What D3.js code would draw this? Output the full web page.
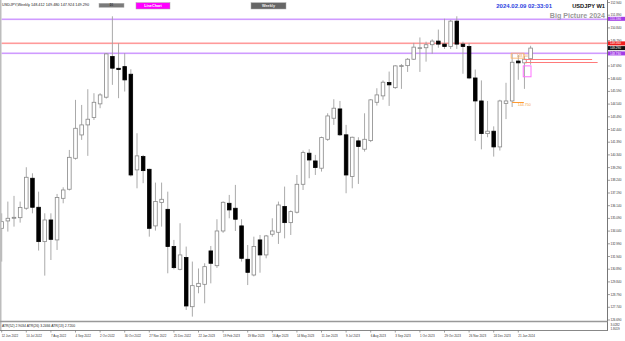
<!DOCTYPE html>
<html>
<head>
<meta charset="utf-8">
<script src="https://cdn.jsdelivr.net/npm/d3@7"></script>
<style>
  body { margin: 0; background: #fff; }
  svg { display: block; font-family: "Liberation Sans", Arial, sans-serif; }
</style>
</head>
<body>
<svg id="chart" width="625" height="341"></svg>
<script>
// weekly bars, 12 Jun 2022 .. 4 Feb 2024
var open = [134.27, 134.88, 135.10, 135.15, 135.93, 138.41, 136.01, 133.17, 134.96, 133.31,
  136.75, 137.50, 140.06, 141.99, 142.82, 143.43, 144.56, 145.11, 148.47, 147.50,
  147.64, 147.01, 139.10, 140.20, 139.15, 134.47, 136.40, 135.84, 132.76, 130.88,
  131.85, 127.79, 129.45, 129.64, 132.40, 131.18, 134.05, 136.34, 135.93, 134.47,
  131.71, 130.41, 133.31, 132.07, 133.78, 133.94, 136.07, 134.74, 135.60, 137.91,
  140.48, 139.84, 139.24, 141.63, 143.37, 144.14, 142.00, 138.55, 141.50, 140.81,
  141.52, 144.69, 145.22, 146.32, 145.90, 147.68, 147.72, 148.25, 149.15, 149.20,
  149.45, 149.75, 149.50, 149.30, 151.40, 149.50, 149.30, 146.70, 144.80, 142.10,
  142.30, 141.00, 144.60, 144.80, 148.10, 147.95, 148.29];
var high = [135.51, 136.48, 136.95, 136.48, 139.32, 138.82, 137.30, 135.51, 135.51, 137.11,
  137.66, 140.75, 144.89, 144.47, 145.77, 145.44, 145.44, 148.75, 151.80, 149.57,
  148.75, 147.42, 142.13, 140.34, 139.20, 138.05, 138.05, 137.30, 133.31, 134.69,
  132.76, 131.52, 130.95, 131.38, 132.81, 135.02, 136.50, 137.03, 137.86, 135.02,
  132.89, 133.58, 133.72, 133.72, 135.10, 136.48, 137.72, 135.75, 138.68, 140.70,
  140.81, 140.34, 141.85, 143.78, 144.94, 144.80, 142.82, 141.85, 141.80, 143.78,
  144.95, 145.85, 146.50, 147.23, 147.75, 147.85, 148.35, 149.60, 150.05, 149.70,
  149.90, 150.70, 151.60, 151.50, 151.80, 149.70, 149.60, 147.40, 146.50, 144.80,
  142.70, 144.90, 146.30, 148.70, 148.60, 148.50, 149.36];
var low = [131.52, 134.00, 134.41, 134.74, 135.80, 135.51, 132.43, 130.36, 131.65, 132.48,
  136.34, 137.40, 139.95, 141.58, 140.26, 143.23, 144.20, 145.00, 146.13, 145.03,
  145.58, 138.55, 137.58, 138.00, 133.58, 134.08, 134.41, 130.55, 130.88, 130.80,
  127.52, 126.97, 128.90, 128.07, 129.72, 131.00, 133.90, 135.10, 134.05, 131.52,
  129.58, 130.30, 130.60, 131.79, 133.58, 132.98, 133.44, 133.72, 135.50, 137.44,
  138.41, 138.68, 138.96, 141.50, 142.82, 141.90, 137.17, 137.58, 137.94, 140.61,
  141.40, 144.42, 144.90, 144.39, 145.80, 145.80, 147.20, 148.20, 147.20, 148.05,
  148.70, 149.20, 149.10, 149.10, 149.10, 147.05, 146.60, 141.50, 140.80, 141.80,
  140.20, 140.70, 143.30, 144.30, 146.55, 145.80, 147.80];
var close = [134.82, 135.10, 135.18, 136.00, 138.49, 136.01, 133.17, 134.96, 133.36, 136.81,
  137.44, 140.14, 142.54, 142.82, 143.29, 144.69, 145.30, 148.69, 147.51, 147.40,
  146.54, 138.68, 140.26, 139.04, 134.27, 136.48, 136.67, 132.76, 131.02, 132.07,
  127.85, 129.53, 129.72, 131.10, 131.38, 134.05, 136.42, 135.79, 135.02, 131.79,
  130.63, 132.76, 132.07, 133.64, 134.05, 136.20, 134.74, 135.65, 137.91, 140.53,
  139.92, 139.29, 141.77, 143.56, 144.20, 142.00, 138.68, 141.80, 141.03, 141.63,
  144.89, 145.30, 146.35, 146.13, 147.70, 147.72, 148.25, 149.25, 149.20, 149.45,
  149.75, 149.50, 149.30, 151.40, 149.50, 149.30, 146.70, 144.80, 142.10, 142.30,
  141.00, 144.80, 144.80, 148.00, 147.95, 148.25, 149.17];

var dateLabels = ['12 Jun 2022', '10 Jul 2022', '7 Aug 2022', '4 Sep 2022', '2 Oct 2022',
  '30 Oct 2022', '27 Nov 2022', '25 Dec 2022', '22 Jan 2023', '19 Feb 2023', '19 Mar 2023',
  '16 Apr 2023', '14 May 2023', '11 Jun 2023', '9 Jul 2023', '6 Aug 2023', '3 Sep 2023',
  '1 Oct 2023', '29 Oct 2023', '26 Nov 2023', '24 Dec 2023', '21 Jan 2024'];
var dateBars = [0, 4, 8, 12, 16, 20, 24, 28, 32, 36, 40, 44, 48, 52, 56, 60, 64, 68, 72, 76, 80, 84];

var priceTicks = [126.690, 127.740, 128.790, 129.840, 130.890, 131.940, 132.990, 134.040,
  135.090, 136.140, 137.190, 138.240, 139.290, 140.340, 141.390, 142.440, 143.490, 144.540,
  145.590, 146.640, 147.690, 148.740, 149.790, 150.840, 151.890, 152.940];

var headerOHLC = [148.412, 149.480, 147.924, 149.290];
var hLevels = [151.590, 149.560, 148.730];   // purple, red, purple
var shortLevels = [148.25, 148.00];          // red lines to the right
var orangeLow = 144.75;
var orangeBox = [148.75, 148.34];
var pinkBox = [147.70, 146.80];
var atrText = 'ATR(52) 2.9034  ATR(26) 3.2466  ATR(13) 2.7200';
var atrTicks = ['3.0282', '1.8019'];

var svg = d3.select('#chart');
var plotRight = 607.5;
var plotBottom = 321.5;

var x = d3.scaleLinear().domain([0, 86]).range([1.7, 530.6]);
var y = d3.scaleLinear().domain([126.69, 152.94]).range([320, 2.5]);

var fmt = d3.format('.3f');
var bars = d3.range(open.length);

// snap horizontal lines to the pixel grid
function crisp(v) {
  return Math.round(v) + 0.5;
}

// horizontal levels (behind candles), drawn as thin bands so the colour shows
var levelColors = ['#cf9bff', '#ff9a9a', '#cf9bff'];
svg.append('g').attr('class', 'levels').selectAll('rect')
  .data(hLevels)
  .enter()
  .append('rect')
  .attr('x', 1.5)
  .attr('width', plotRight - 1.5)
  .attr('y', function (d) { return Math.round(y(d)) - 0.5; })
  .attr('height', 1.6)
  .attr('fill', function (d, i) { return levelColors[i]; });

// candles
var candles = svg.append('g').attr('class', 'candles');

candles.selectAll('line.wick')
  .data(bars)
  .enter()
  .append('line')
  .attr('class', 'wick')
  .attr('x1', function (i) { return x(i); })
  .attr('x2', function (i) { return x(i); })
  .attr('y1', function (i) { return y(high[i]); })
  .attr('y2', function (i) { return y(low[i]); })
  .attr('stroke', '#a0a0a0')
  .attr('stroke-width', 0.9);

candles.selectAll('rect.body')
  .data(bars)
  .enter()
  .append('rect')
  .attr('class', 'body')
  .attr('x', function (i) { return x(i) - 1.8; })
  .attr('width', 3.6)
  .attr('y', function (i) { return y(Math.max(open[i], close[i])); })
  .attr('height', function (i) {
    return Math.max(0.8, Math.abs(y(open[i]) - y(close[i])));
  })
  .attr('fill', function (i) { return close[i] >= open[i] ? '#fff' : '#000'; })
  .attr('stroke', function (i) { return close[i] >= open[i] ? '#888' : '#000'; })
  .attr('stroke-width', 0.8);

// objects near the last bars
var obj = svg.append('g').attr('class', 'objects');
var shortEnds = [[84.9, 96.0], [85.1, 96.9]];
obj.selectAll('line.short')
  .data(shortLevels)
  .enter()
  .append('line')
  .attr('class', 'short')
  .attr('x1', function (d, i) { return x(shortEnds[i][0]); })
  .attr('x2', function (d, i) { return x(shortEnds[i][1]); })
  .attr('y1', function (d) { return crisp(y(d)); })
  .attr('y2', function (d) { return crisp(y(d)); })
  .style('stroke', '#ff7a7a')
  .style('stroke-width', 1);

obj.append('rect')
  .attr('x', x(83) - 1)
  .attr('y', y(orangeBox[0]))
  .attr('width', x(85) - x(83) + 0.5)
  .attr('height', y(orangeBox[1]) - y(orangeBox[0]))
  .attr('fill', 'none')
  .attr('stroke', '#ffb060')
  .attr('stroke-width', 0.8);
obj.append('text')
  .attr('x', x(83.8))
  .attr('y', y(orangeBox[1]) - 1)
  .attr('font-size', 3)
  .attr('fill', '#f0a040')
  .text('148.700');

obj.append('line')
  .attr('x1', x(83))
  .attr('x2', x(84.9))
  .attr('y1', crisp(y(orangeLow)))
  .attr('y2', crisp(y(orangeLow)))
  .attr('stroke', '#ff9a30')
  .attr('stroke-width', 1);
obj.append('text')
  .attr('x', x(83.9))
  .attr('y', y(orangeLow) + 4.5)
  .attr('font-size', 3.6)
  .attr('fill', '#f5a040')
  .text(fmt(orangeLow));

obj.append('rect')
  .attr('x', x(85) - 1.2)
  .attr('y', y(pinkBox[0]))
  .attr('width', x(86) - x(85) + 1.6)
  .attr('height', y(pinkBox[1]) - y(pinkBox[0]))
  .attr('fill', 'none')
  .attr('stroke', '#ff70ff')
  .attr('stroke-width', 1);

// frame
svg.append('rect')
  .attr('x', 0).attr('y', 0)
  .attr('width', 1.5).attr('height', 331)
  .attr('fill', '#bdbdbd');
svg.append('line')
  .attr('x1', plotRight).attr('x2', plotRight)
  .attr('y1', 0).attr('y2', 331)
  .attr('stroke', '#777').attr('stroke-width', 1);
svg.append('line')
  .attr('x1', 0).attr('x2', plotRight)
  .attr('y1', plotBottom).attr('y2', plotBottom)
  .attr('stroke', '#999').attr('stroke-width', 1.5);
svg.append('line')
  .attr('x1', 0).attr('x2', plotRight)
  .attr('y1', 330.5).attr('y2', 330.5)
  .attr('stroke', '#888').attr('stroke-width', 1);

// price axis
var yAxis = svg.append('g').attr('class', 'axis y');
yAxis.selectAll('line')
  .data(priceTicks)
  .enter()
  .append('line')
  .attr('x1', plotRight)
  .attr('x2', plotRight + 2.5)
  .attr('y1', function (d) { return y(d); })
  .attr('y2', function (d) { return y(d); })
  .attr('stroke', '#777')
  .attr('stroke-width', 0.7);
yAxis.selectAll('text')
  .data(priceTicks)
  .enter()
  .append('text')
  .attr('x', plotRight + 3)
  .attr('y', function (d) { return y(d) + 1; })
  .attr('font-size', 3)
  .attr('fill', '#333')
  .text(fmt);

// coloured price labels
var tagData = [
  { v: hLevels[0], c: '#a23ce6', t: fmt(hLevels[0]) },
  { v: hLevels[1], c: '#f01e1e', t: fmt(hLevels[1]) },
  { v: close[close.length - 1], c: '#111', t: fmt(headerOHLC[3]) },
  { v: hLevels[2], c: '#a23ce6', t: fmt(hLevels[2]) }
];
var tags = svg.append('g').selectAll('g')
  .data(tagData)
  .enter()
  .append('g');
tags.append('rect')
  .attr('x', plotRight + 0.5)
  .attr('y', function (d) { return y(d.v) - 2; })
  .attr('width', 17)
  .attr('height', 4)
  .attr('fill', function (d) { return d.c; });
tags.append('text')
  .attr('x', plotRight + 2.5)
  .attr('y', function (d) { return y(d.v) + 1.1; })
  .attr('font-size', 3)
  .attr('fill', '#fff')
  .text(function (d) { return d.t; });

// time axis
var xAxis = svg.append('g').attr('class', 'axis x');
xAxis.selectAll('line')
  .data(dateBars)
  .enter()
  .append('line')
  .attr('x1', function (d) { return x(d); })
  .attr('x2', function (d) { return x(d); })
  .attr('y1', 330.5)
  .attr('y2', 332.5)
  .attr('stroke', '#777')
  .attr('stroke-width', 0.7);
xAxis.selectAll('text')
  .data(dateBars)
  .enter()
  .append('text')
  .attr('x', function (d) { return x(d); })
  .attr('y', 336.8)
  .attr('font-size', 3)
  .attr('fill', '#333')
  .text(function (d, i) { return dateLabels[i]; });

// ATR sub window
svg.append('text')
  .attr('x', 2).attr('y', 327.2)
  .attr('font-size', 3.4)
  .attr('fill', '#222')
  .text(atrText);
svg.selectAll('text.atr')
  .data(atrTicks)
  .enter()
  .append('text')
  .attr('class', 'atr')
  .attr('x', plotRight + 3)
  .attr('y', function (d, i) { return 326.3 + i * 3.5; })
  .attr('font-size', 3)
  .attr('fill', '#333')
  .text(String);

// header
svg.append('text')
  .attr('x', 2).attr('y', 6)
  .attr('font-size', 3.8)
  .attr('fill', '#222')
  .text('USDJPY,Weekly  ' + headerOHLC.map(fmt).join(' '));

var buttons = [
  { x: 99, w: 25, fill: '#7a7a7a', t: 'D1', tc: '#333' },
  { x: 136, w: 34, fill: '#ff00ff', t: 'LineChart', tc: '#fff' },
  { x: 251, w: 35, fill: '#666', t: 'Weekly', tc: '#eee' }
];
var btn = svg.append('g').selectAll('g')
  .data(buttons)
  .enter()
  .append('g');
btn.append('rect')
  .attr('x', function (d) { return d.x; })
  .attr('y', function (d, i) { return i === 0 ? 3.3 : 2.7; })
  .attr('width', function (d) { return d.w; })
  .attr('height', function (d, i) { return i === 0 ? 4 : 6.3; })
  .attr('fill', function (d) { return d.fill; })
  .attr('stroke', '#aaa')
  .attr('stroke-width', 0.5);
btn.append('text')
  .attr('x', function (d) { return d.x + d.w / 2; })
  .attr('y', function (d, i) { return i === 0 ? 6.3 : 7.3; })
  .attr('text-anchor', 'middle')
  .attr('font-size', function (d, i) { return i === 0 ? 2.6 : 3.8; })
  .attr('font-weight', 'bold')
  .attr('fill', function (d) { return d.tc; })
  .text(function (d) { return d.t; });

svg.append('text')
  .attr('x', 552).attr('y', 8.2)
  .attr('text-anchor', 'end')
  .attr('font-size', 6)
  .attr('font-weight', 'bold')
  .attr('fill', '#2c3fe0')
  .text('2024.02.09 02:33:01');
svg.append('text')
  .attr('x', 605).attr('y', 8.2)
  .attr('text-anchor', 'end')
  .attr('font-size', 5.7)
  .attr('font-weight', 'bold')
  .attr('fill', '#111')
  .text('USDJPY W1');
svg.append('text')
  .attr('x', 605).attr('y', 18.3)
  .attr('text-anchor', 'end')
  .attr('font-size', 7.1)
  .attr('font-weight', 'bold')
  .attr('fill', '#9a9a9a')
  .text('Big Picture 2024');
</script>
</body>
</html>
